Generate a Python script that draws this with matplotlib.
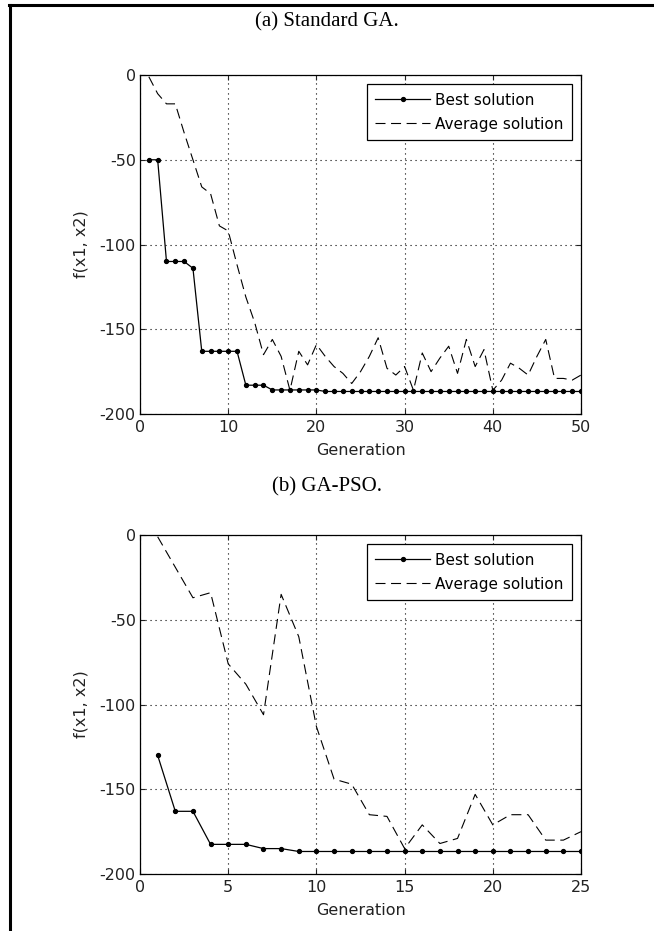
import numpy as np
import matplotlib
matplotlib.use("Agg")
import matplotlib.pyplot as plt
from matplotlib.lines import Line2D

# (a) Standard GA, generations 1..50
gen_a = list(range(1, 51))
best_a = [-50, -50, -110, -110, -110, -114, -163, -163, -163, -163,
          -163, -183, -183, -183, -185.8, -185.8, -185.8, -185.8, -185.8, -185.8,
          -186.7, -186.7, -186.7, -186.7, -186.7, -186.7, -186.7, -186.7, -186.7, -186.7,
          -186.7, -186.7, -186.7, -186.7, -186.7, -186.7, -186.7, -186.7, -186.7, -186.7,
          -186.7, -186.7, -186.7, -186.7, -186.7, -186.7, -186.7, -186.7, -186.7, -186.7]
avg_a = [-1, -11, -17, -17, -34, -50, -66, -70, -89, -92,
         -112, -131, -146, -165, -156, -166, -186, -163, -171, -159,
         -166, -172, -176, -182, -175, -166, -155, -173, -177, -172,
         -186, -164, -175, -167, -160, -176, -156, -172, -162, -186,
         -180, -170, -173, -177, -166, -156, -179, -179, -180, -177]

# (b) GA-PSO, generations 1..25
gen_b = list(range(1, 26))
best_b = [-130, -163, -163, -182.5, -182.5, -182.5, -185, -185, -186.7, -186.7,
          -186.7, -186.7, -186.7, -186.7, -186.7, -186.7, -186.7, -186.7, -186.7, -186.7,
          -186.7, -186.7, -186.7, -186.7, -186.7]
avg_b = [-1, -19, -37, -34, -76, -88, -106, -35, -60, -113,
         -144, -147, -165, -166, -185, -171, -182, -179, -153, -171,
         -165, -165, -180, -180, -175]

titles = ["(a) Standard GA.", "(b) GA-PSO."]
xticks_list = [np.arange(0, 51, 10), np.arange(0, 26, 5)]
xlims = [(0, 50), (0, 25)]
yticks = [0, -50, -100, -150, -200]

plt.rcParams['font.family'] = ['DejaVu Sans']
plt.rcParams['axes.unicode_minus'] = False
fig = plt.figure(figsize=(6.54, 9.31), dpi=100)

# outer frame (left and top edges)
fig.add_artist(Line2D([0.015, 0.015], [0.0, 0.995], color='black', lw=2.2))
fig.add_artist(Line2D([0.0135, 1.0], [0.995, 0.995], color='black', lw=2.2))

positions = [[0.2141, 0.5553, 0.6743, 0.3641], [0.2141, 0.0612, 0.6743, 0.3641]]
data = [(gen_a, best_a, avg_a), (gen_b, best_b, avg_b)]
title_y = [0.976, 0.4769]

for i in range(2):
    ax = fig.add_axes(positions[i])
    g, b, a = data[i]
    ax.plot(g, b, color='black', lw=0.9, marker='o', ms=2.8, label='Best solution')
    ax.plot(g, a, color='black', lw=0.8, dashes=(9, 5), label='Average solution')
    ax.set_xlim(*xlims[i])
    ax.set_ylim(-200, 0)
    ax.set_xticks(xticks_list[i])
    ax.set_yticks(yticks)
    ax.grid(True, color='black', linestyle=(0, (1, 3.5)), linewidth=0.8)
    ax.tick_params(direction='in', top=True, right=True, length=3.5, width=0.8,
                   labelsize=11.5, colors='#222222', pad=3)
    ax.tick_params(axis='x', pad=4)
    for sp in ax.spines.values():
        sp.set_linewidth(0.9)
    ax.set_xlabel('Generation', fontsize=11.5, color='#222222', labelpad=6)
    ax.set_ylabel('f(x1, x2)', fontsize=11.5, color='#222222', labelpad=8)
    leg = ax.legend(loc='upper right', fontsize=11, frameon=True, fancybox=False,
                    edgecolor='black', framealpha=1, handlelength=3.6,
                    handletextpad=0.3, borderpad=0.55, labelspacing=0.6,
                    borderaxespad=0.6)
    leg.get_frame().set_linewidth(0.9)
    fig.text(0.5, title_y[i], titles[i], ha='center', va='center',
             fontsize=15, family='Liberation Serif')

fig.savefig('out.png', dpi=100)
